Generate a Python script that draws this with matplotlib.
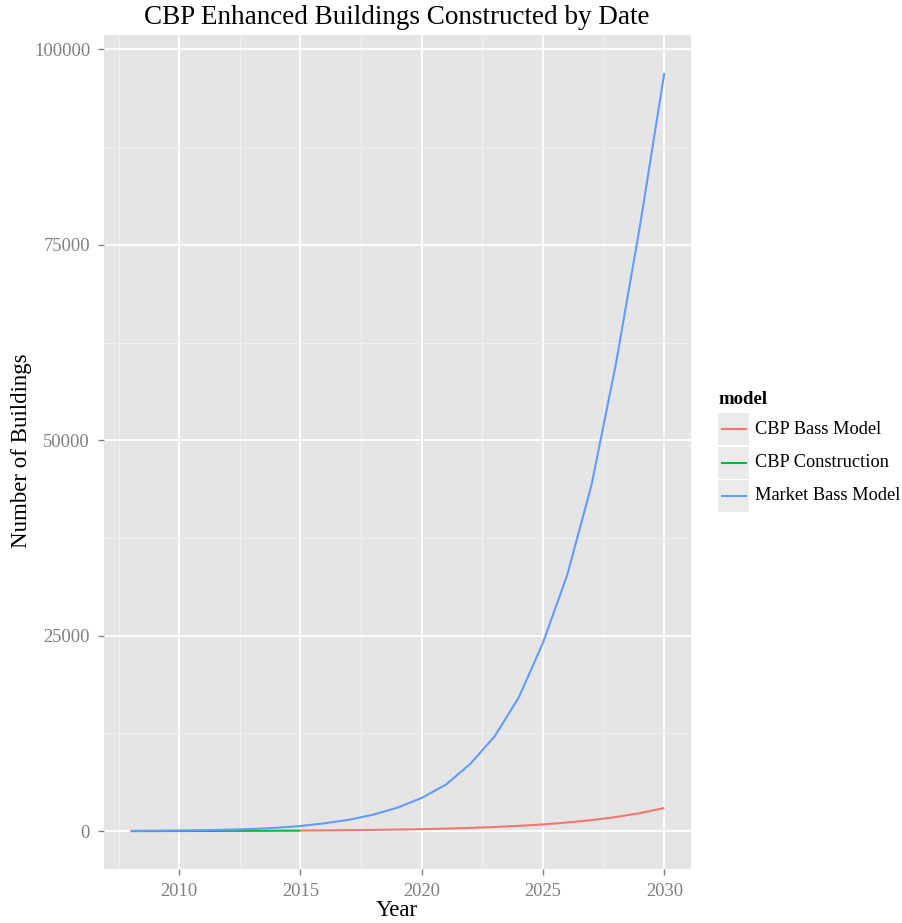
import matplotlib
matplotlib.use("Agg")
import matplotlib.pyplot as plt
from matplotlib.patches import Rectangle
from matplotlib.lines import Line2D

# ---- data ----
years_market = list(range(2008, 2031))
market_bass = [30, 50, 80, 120, 180, 270, 420, 650, 1000, 1450, 2100, 3000, 4250,
               5950, 8600, 12100, 17100, 24100, 32800, 44300, 59700, 77500, 97000]
years_cbp_bass = list(range(2015, 2031))
cbp_bass = [70, 92, 119, 152, 195, 249, 319, 408, 523, 670, 857, 1100, 1405, 1800, 2300, 2950]
years_cbp_con = list(range(2008, 2016))
cbp_construction = [0, 5, 10, 15, 25, 35, 45, 60]

models = ["CBP Bass Model", "CBP Construction", "Market Bass Model"]
colors = ["#F8766D", "#00BA38", "#619CFF"]
x_ticks = [2010, 2015, 2020, 2025, 2030]
y_ticks = [0, 25000, 50000, 75000, 100000]

W, H = 903, 923
fig = plt.figure(figsize=(W / 100, H / 100), dpi=100)
fig.patch.set_facecolor("white")
serif = ["Liberation Serif", "DejaVu Serif"]

ax = fig.add_axes([104 / W, 1 - 869 / H, (691 - 104) / W, (869 - 35) / H])
ax.set_facecolor("#E5E5E5")
for s in ax.spines.values():
    s.set_visible(False)

series = [(years_cbp_bass, cbp_bass), (years_cbp_con, cbp_construction), (years_market, market_bass)]
for (xs, ys), c, name in zip(series, colors, models):
    ax.plot(xs, ys, color=c, lw=1.5, label=name, zorder=3, solid_capstyle="butt")

ax.set_xlim(2006.9, 2031.1)
ax.set_ylim(-4850, 101850)
ax.set_xticks(x_ticks)
ax.set_yticks(y_ticks)
ax.set_xticks([2007.5, 2012.5, 2017.5, 2022.5, 2027.5], minor=True)
ax.set_yticks([12500, 37500, 62500, 87500], minor=True)
ax.grid(which="major", color="white", lw=1.3, zorder=1)
ax.grid(which="minor", color="#F2F2F2", lw=0.6, zorder=1)
ax.set_axisbelow(True)
ax.tick_params(which="major", length=4.5, width=1, color="#7F7F7F", labelcolor="#7F7F7F",
               labelsize=13.3, pad=5.5)
ax.tick_params(which="minor", length=0)
ax.set_xticklabels([str(t) for t in x_ticks])
ax.set_yticklabels([str(t) for t in y_ticks])
for lab in ax.get_xticklabels() + ax.get_yticklabels():
    lab.set_family(serif)

fig.text(397 / W, 1 - 17 / H, "CBP Enhanced Buildings Constructed by Date", ha="center", va="center",
         fontsize=19.5, family=serif)
fig.text(397 / W, 1 - 910 / H, "Year", ha="center", va="center", fontsize=16.5, family=serif)
fig.text(22 / W, 1 - 451 / H, "Number of Buildings", ha="center", va="center", rotation=90,
         fontsize=16.5, family=serif)

# legend
fig.text(718 / W, 1 - 400 / H, "model", ha="left", va="center", fontsize=13.5, fontweight="bold",
         family=serif)
for i, (name, c) in enumerate(zip(models, colors)):
    top = 413 + i * 33.5
    fig.patches.append(Rectangle((718 / W, 1 - (top + 32) / H), 31 / W, 32 / H,
                                 transform=fig.transFigure, facecolor="#EBEBEB",
                                 edgecolor="none"))
    yc = 1 - (top + 16) / H
    fig.lines.append(Line2D([722 / W, 746 / W], [yc, yc], transform=fig.transFigure,
                            color=c, lw=1.5))
    fig.text(755 / W, yc, name, ha="left", va="center", fontsize=13.2, family=serif)

fig.savefig("out.png", dpi=100)
